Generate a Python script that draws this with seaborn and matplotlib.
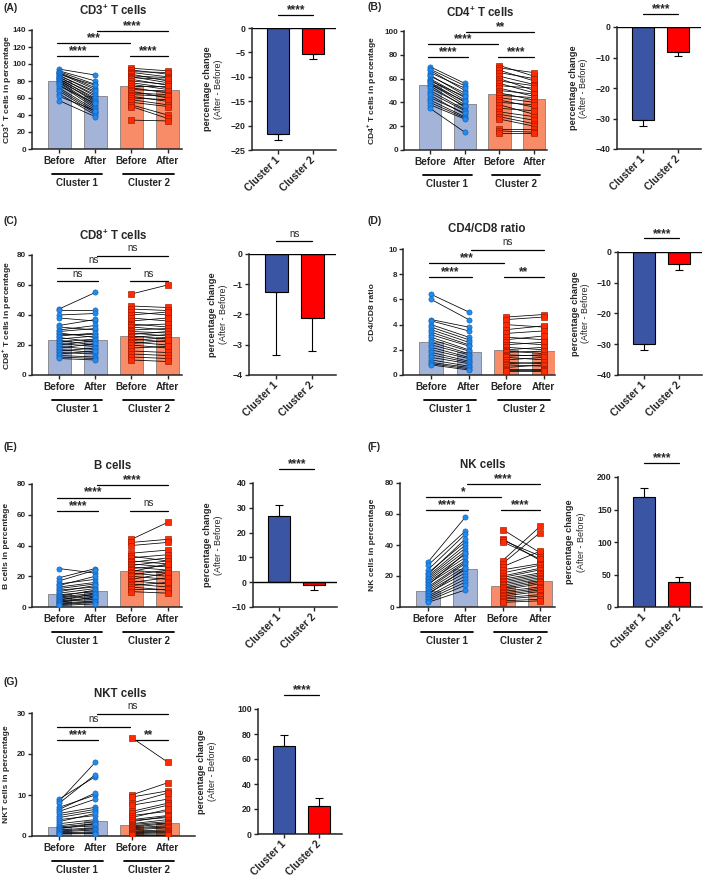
import numpy as np
import matplotlib.pyplot as plt
import seaborn as sns
from matplotlib.transforms import offset_copy

# ---------------------------------------------------------------------
# valores (antes / depois, por cluster)
# ---------------------------------------------------------------------
groups = ['C1 Before', 'C1 After', 'C2 Before', 'C2 After']
tick_names = ['Before', 'After', 'Before', 'After']
clusters = ['Cluster 1', 'Cluster 2']

cd3_c1_before = [94, 92, 91, 90, 89, 88, 87, 86, 85, 84, 83, 82, 81, 80, 79, 78, 76, 74, 72, 70, 68, 65, 62, 57]
cd3_c1_after = [87, 80, 76, 72, 70, 75, 66, 68, 62, 64, 58, 60, 55, 57, 52, 50, 48, 54, 46, 44, 42, 40, 45, 38]
cd3_c2_before = [95, 93, 91, 90, 88, 86, 85, 84, 82, 80, 78, 76, 74, 72, 70, 68, 66, 64, 62, 60, 58, 55, 52, 50, 34]
cd3_c2_after = [92, 88, 90, 85, 80, 84, 78, 82, 75, 76, 72, 70, 74, 66, 68, 60, 64, 62, 56, 58, 52, 50, 40, 36, 33]
cd3_bar_means = [80, 62, 74, 69.5]
cd3_change = [-21.8, -5.4]
cd3_change_sem = [1.2, 1.0]

cd4_c1_before = [70, 68, 67, 65, 63, 62, 60, 59, 58, 57, 56, 55, 54, 52, 50, 48, 46, 44, 42, 40, 38, 35]
cd4_c1_after = [56, 54, 50, 52, 46, 48, 44, 42, 45, 40, 38, 41, 36, 37, 34, 33, 30, 31, 28, 27, 26, 15]
cd4_c2_before = [71, 69, 67, 65, 62, 60, 58, 56, 54, 52, 50, 48, 46, 44, 42, 40, 38, 35, 32, 30, 28, 26, 18, 16, 14]
cd4_c2_after = [62, 65, 58, 60, 55, 50, 54, 48, 52, 45, 47, 42, 44, 40, 36, 38, 30, 33, 28, 25, 22, 20, 18, 15, 14]
cd4_bar_means = [55, 38.5, 47, 43]
cd4_change = [-30.5, -8.3]
cd4_change_sem = [2.0, 1.2]

cd8_c1_before = [44, 43, 40, 38, 33, 32, 30, 29, 28, 27, 26, 25, 24, 23, 22, 21, 20, 19, 18, 17, 16, 15, 14, 13, 12, 11]
cd8_c1_after = [55, 43, 41, 36, 37, 30, 33, 31, 25, 27, 28, 22, 26, 20, 24, 19, 23, 17, 21, 15, 18, 14, 16, 12, 11, 10]
cd8_c2_before = [54, 46, 44, 42, 40, 38, 36, 34, 33, 32, 30, 29, 28, 27, 26, 25, 24, 23, 22, 21, 20, 18, 16, 14, 12, 10]
cd8_c2_after = [60, 45, 43, 40, 42, 36, 38, 32, 34, 30, 31, 28, 26, 29, 24, 27, 22, 25, 20, 23, 18, 19, 15, 13, 11, 9]
cd8_bar_means = [23.5, 23.2, 25.7, 25]
cd8_change = [-1.25, -2.1]
cd8_change_sem = [2.1, 1.12]

ratio_c1_before = [6.4, 6.0, 4.4, 4.3, 4.0, 3.8, 3.6, 3.4, 3.2, 3.0, 2.8, 2.6, 2.4, 2.2, 2.0, 1.8, 1.6, 1.4, 1.2, 1.0, 0.9, 0.8]
ratio_c1_after = [5.0, 4.4, 3.8, 3.5, 3.0, 2.8, 2.6, 2.4, 2.3, 2.0, 1.9, 1.7, 1.6, 1.4, 1.3, 1.1, 1.0, 0.9, 0.7, 0.6, 0.5, 0.4]
ratio_c2_before = [4.6, 4.4, 4.0, 3.6, 3.3, 3.0, 2.8, 2.6, 2.4, 2.2, 2.0, 1.9, 1.8, 1.6, 1.5, 1.4, 1.2, 1.0, 0.9, 0.8, 0.6, 0.5, 0.4, 0.3]
ratio_c2_after = [4.8, 4.6, 3.8, 3.9, 3.5, 2.8, 3.1, 2.4, 2.6, 2.0, 2.2, 1.7, 1.9, 1.5, 1.6, 1.2, 1.4, 0.9, 1.0, 0.7, 0.8, 0.5, 0.4, 0.3]
ratio_bar_means = [2.6, 1.85, 2.0, 1.9]
ratio_change = [-30.0, -3.8]
ratio_change_sem = [2.0, 2.1]

bcell_c1_before = [25, 19, 17, 15, 14, 13, 12, 11, 10, 9, 8, 7, 6.5, 6, 5, 4.5, 4, 3.5, 3, 2.5, 2, 1.5, 1]
bcell_c1_after = [22, 25, 24, 18, 20, 16, 15, 13, 14, 12, 10, 11, 9, 8, 7, 8.5, 6, 5, 6.5, 4, 3.5, 3, 2]
bcell_c2_before = [44, 42, 40, 35, 33, 32, 30, 29, 28, 27, 26, 25, 24, 23, 22, 21, 20, 18, 17, 16, 15, 14, 13, 12, 10]
bcell_c2_after = [55, 44, 42, 37, 30, 34, 28, 32, 26, 30, 24, 27, 22, 28, 20, 24, 18, 22, 15, 19, 13, 16, 11, 12, 9]
bcell_bar_means = [8.3, 10.3, 23.5, 23.3]
bcell_change = [26.7, -1.3]
bcell_change_sem = [4.5, 2.0]

nk_c1_before = [29, 27, 24, 22, 21, 20, 19, 18, 17, 16, 15, 14, 13, 12, 11, 10, 9, 8, 7, 6, 5, 4, 3]
nk_c1_after = [58, 49, 47, 42, 44, 40, 38, 36, 34, 32, 30, 35, 29, 28, 26, 24, 22, 25, 20, 18, 16, 14, 11]
nk_c2_before = [50, 44, 43, 42, 30, 28, 26, 24, 22, 20, 19, 18, 17, 16, 15, 14, 13, 12, 11, 10, 9, 8, 7, 6, 5, 4, 3]
nk_c2_after = [35, 30, 33, 31, 52, 48, 36, 28, 27, 25, 24, 22, 21, 20, 19, 18, 17, 16, 15, 13, 12, 11, 10, 8, 7, 5, 4]
nk_bar_means = [10.3, 24.8, 13.7, 16.5]
nk_change = [169, 39]
nk_change_sem = [14, 7]

nkt_c1_before = [9, 8.5, 8, 7, 6.5, 6, 5.5, 5, 4.5, 4, 3.5, 3, 2.5, 2.2, 2, 1.8, 1.5, 1.2, 1, 0.8, 0.6, 0.5]
nkt_c1_after = [14.5, 18, 15, 10, 10.5, 9, 7, 6.5, 6, 5, 5.5, 4, 3.5, 3, 2.5, 3, 2, 1.8, 1.5, 1, 0.8, 0.6]
nkt_c2_before = [24, 10, 9.5, 8, 7.5, 6, 5.5, 5, 4.5, 4, 3.8, 3.5, 3, 2.8, 2.5, 2.2, 2, 1.8, 1.5, 1.2, 1, 0.8, 0.6, 0.4, 0.3]
nkt_c2_after = [18, 13, 11, 10.5, 9, 8, 7.5, 6, 6.5, 5, 4.5, 4.8, 4, 3.5, 3.2, 3, 2.5, 2.2, 2, 1.5, 1.2, 1, 0.8, 0.5, 0.3]
nkt_bar_means = [2.1, 3.6, 2.8, 3.1]
nkt_change = [70.5, 22.5]
nkt_change_sem = [8.5, 6.0]

# ---------------------------------------------------------------------
# estilo
# ---------------------------------------------------------------------
sns.set_theme(style='ticks')
plt.rcParams['font.family'] = ['Liberation Sans', 'DejaVu Sans']
plt.rcParams['font.weight'] = 'bold'
plt.rcParams['axes.labelweight'] = 'bold'
plt.rcParams['mathtext.fontset'] = 'custom'
plt.rcParams['mathtext.rm'] = 'Liberation Sans'
plt.rcParams['mathtext.bf'] = 'Liberation Sans:bold'
plt.rcParams['axes.linewidth'] = 1.1

BAR1, BAR2 = '#A3B4D8', '#F98C68'
DOT1, EDGE1 = '#1E8CF0', '#1560B8'
DOT2, EDGE2 = '#FF2A00', '#A01A00'
CH1, CH2 = '#3B55A5', '#FF0000'

W, H = 709, 882
fig = plt.figure(figsize=(W / 100, H / 100), dpi=100)


def add_box(l, t, r, b):
    return fig.add_axes([l / W, 1 - b / H, (r - l) / W, (b - t) / H])


def pair_panel(box, means, c1b, c1a, c2b, c2a, ymax, ystep, xmax, ylabel, ylab_x, stars):
    ax = add_box(*box)
    sns.barplot(x=groups, y=means, hue=groups, palette=[BAR1, BAR1, BAR2, BAR2], saturation=1,
                width=0.64, edgecolor='#808080', linewidth=0.6, legend=False, ax=ax, zorder=1)
    for x0, b_vals, a_vals, face, edge, mk in [(0, c1b, c1a, DOT1, EDGE1, 'o'), (2, c2b, c2a, DOT2, EDGE2, 's')]:
        for b, a in zip(b_vals, a_vals):
            ax.plot([x0, x0 + 1], [b, a], color='black', lw=0.55, zorder=3)
        for xx, vals in [(x0, b_vals), (x0 + 1, a_vals)]:
            sns.scatterplot(x=np.full(len(vals), xx), y=vals, marker=mk, s=14, color=face,
                            edgecolor=edge, linewidth=0.45, legend=False, ax=ax, zorder=4)
    ax.set_xlim(-0.75, xmax)
    ax.set_ylim(0, ymax)
    ax.set_yticks(np.arange(0, ymax + ystep / 2, ystep))
    ax.set_xticks(range(4))
    ax.set_xticklabels(tick_names, fontsize=7.2)
    ax.set_xlabel('')
    ax.set_ylabel('')
    ax.tick_params(axis='y', labelsize=5.8, length=3, width=1.0, pad=1.2)
    ax.tick_params(axis='x', length=3, width=1.0, pad=2)
    sns.despine(ax=ax)

    # barras de significância
    spans = [(-0.05, 1.08, 0.78), (-0.05, 1.95, 0.89), (1.05, 3.0, 0.99), (1.95, 3.0, 0.78)]
    for (x1, x2, lev), lab in zip(spans, stars):
        y = lev * ymax
        ax.plot([x1, x2], [y, y], color='black', lw=0.9, clip_on=False)
        if lab == 'ns':
            ax.annotate(lab, ((x1 + x2) / 2, y), xytext=(0, 2), textcoords='offset points',
                        ha='center', va='bottom', fontsize=7, fontweight='normal')
        else:
            ax.annotate(lab, ((x1 + x2) / 2, y), xytext=(0, -0.8), textcoords='offset points',
                        ha='center', va='bottom', fontsize=8.5)

    # linhas "Cluster 1 / Cluster 2" abaixo do eixo
    tr_line = offset_copy(ax.get_xaxis_transform(), fig=fig, y=-25, units='dots')
    tr_text = offset_copy(ax.get_xaxis_transform(), fig=fig, y=-34, units='dots')
    for (x1, x2), name in zip([(-0.2, 1.2), (1.78, 3.18)], clusters):
        ax.plot([x1, x2], [0, 0], transform=tr_line, color='black', lw=1.3, clip_on=False)
        ax.text((x1 + x2) / 2, 0, name, transform=tr_text, ha='center', va='center', fontsize=7)

    fig.text(ylab_x / W, 1 - (box[1] + box[3]) / 2 / H, ylabel, rotation=90,
             ha='center', va='center', fontsize=6.1)


def change_panel(box, vals, sems, ylim, ystep, star, rlab_x):
    ax = add_box(*box)
    sns.barplot(x=clusters, y=vals, hue=clusters, palette=[CH1, CH2], saturation=1,
                width=0.63, edgecolor='black', linewidth=0.8, legend=False, ax=ax)
    lower = [e if v < 0 else 0 for v, e in zip(vals, sems)]
    upper = [e if v > 0 else 0 for v, e in zip(vals, sems)]
    ax.errorbar([0, 1], vals, yerr=[lower, upper], fmt='none', ecolor='black',
                elinewidth=0.8, capsize=3, capthick=0.8)
    ax.axhline(0, color='black', lw=1.0)
    ax.set_ylim(*ylim)
    ax.set_yticks(np.arange(ylim[0], ylim[1] + ystep / 2, ystep))
    ax.set_xlim(-0.75, 1.65)
    ax.set_xticks([0, 1])
    ax.set_xticklabels(clusters, rotation=45, ha='right', va='center', rotation_mode='anchor', fontsize=7.5)
    ax.set_xlabel('')
    ax.set_ylabel('')
    ax.tick_params(axis='y', labelsize=6.3, length=3, width=1.0, pad=1.5)
    ax.tick_params(axis='x', length=3, width=1.0, pad=3)
    sns.despine(ax=ax)

    ax.plot([0, 1], [1.11, 1.11], transform=ax.get_xaxis_transform(), color='black', lw=0.9, clip_on=False)
    if star == 'ns':
        ax.text(0.5, 1.125, star, transform=ax.get_xaxis_transform(), ha='center', va='bottom',
                fontsize=7, fontweight='normal')
    else:
        ax.text(0.5, 1.1, star, transform=ax.get_xaxis_transform(), ha='center', va='bottom', fontsize=8.5)

    yc = 1 - (box[1] + box[3]) / 2 / H
    fig.text(rlab_x / W, yc, 'percentage change', rotation=90, ha='center', va='center', fontsize=6.7)
    fig.text((rlab_x + 11) / W, yc, '(After - Before)', rotation=90, ha='center', va='center',
             fontsize=6.5, fontweight='normal')


def header(tag, tag_xy, title, title_xy):
    fig.text(tag_xy[0] / W, 1 - tag_xy[1] / H, tag, ha='left', va='center', fontsize=7.5)
    fig.text(title_xy[0] / W, 1 - title_xy[1] / H, title, ha='center', va='center', fontsize=8.3)


# (A) CD3
header('(A)', (3, 8), 'CD3$^{\\mathbf{+}}$ T cells', (113, 11))
pair_panel((32, 30, 182, 149), cd3_bar_means, cd3_c1_before, cd3_c1_after, cd3_c2_before, cd3_c2_after,
           140, 20, 3.4, 'CD3$^{\\mathbf{+}}$ T cells in percentage', 6.5, ['****', '***', '****', '****'])
change_panel((252, 28, 336, 150), cd3_change, cd3_change_sem, (-25, 0), 5, '****', 207)

# (B) CD4
header('(B)', (367, 7), 'CD4$^{\\mathbf{+}}$ T cells', (480, 13))
pair_panel((404, 31, 547, 150), cd4_bar_means, cd4_c1_before, cd4_c1_after, cd4_c2_before, cd4_c2_after,
           100, 20, 3.37, 'CD4$^{\\mathbf{+}}$ T cells in percentage', 372, ['****', '****', '**', '****'])
change_panel((617, 27, 701, 149), cd4_change, cd4_change_sem, (-40, 0), 10, '****', 573)

# (C) CD8
header('(C)', (3, 221), 'CD8$^{\\mathbf{+}}$ T cells', (113, 236))
pair_panel((32, 255, 182, 375), cd8_bar_means, cd8_c1_before, cd8_c1_after, cd8_c2_before, cd8_c2_after,
           80, 20, 3.4, 'CD8$^{\\mathbf{+}}$ T cells in percentage', 6.5, ['ns', 'ns', 'ns', 'ns'])
change_panel((249, 254, 336, 375), cd8_change, cd8_change_sem, (-4, 0), 1, 'ns', 213)

# (D) CD4/CD8
header('(D)', (367, 221), 'CD4/CD8 ratio', (487, 229))
pair_panel((403, 249, 555, 375), ratio_bar_means, ratio_c1_before, ratio_c1_after, ratio_c2_before, ratio_c2_after,
           10, 2, 3.3, 'CD4/CD8 ratio', 372, ['****', '***', 'ns', '**'])
change_panel((618, 252, 702, 375), ratio_change, ratio_change_sem, (-40, 0), 10, '****', 575)

# (E) B cells
header('(E)', (3, 447), 'B cells', (113, 466))
pair_panel((32, 484, 182, 607), bcell_bar_means, bcell_c1_before, bcell_c1_after, bcell_c2_before, bcell_c2_after,
           80, 20, 3.4, 'B cells in percentage', 6.5, ['****', '****', '****', 'ns'])
change_panel((253, 483, 337, 607), bcell_change, bcell_change_sem, (-10, 40), 10, '****', 207)

# (F) NK cells
header('(F)', (367, 447), 'NK cells', (483, 465))
pair_panel((400, 483, 555, 607), nk_bar_means, nk_c1_before, nk_c1_after, nk_c2_before, nk_c2_after,
           80, 20, 3.4, 'NK cells in percentage', 372, ['****', '*', '****', '****'])
change_panel((618, 477, 702, 607), nk_change, nk_change_sem, (0, 200), 50, '****', 570)

# (G) NKT cells
header('(G)', (3, 682), 'NKT cells', (120, 694))
pair_panel((32, 713, 195, 836), nkt_bar_means, nkt_c1_before, nkt_c1_after, nkt_c2_before, nkt_c2_after,
           30, 10, 3.75, 'NKT cells in percentage', 6.5, ['****', 'ns', 'ns', '**'])
change_panel((258, 709, 342, 834), nkt_change, nkt_change_sem, (0, 100), 20, '****', 202)

plt.savefig('out.png', dpi=100)
